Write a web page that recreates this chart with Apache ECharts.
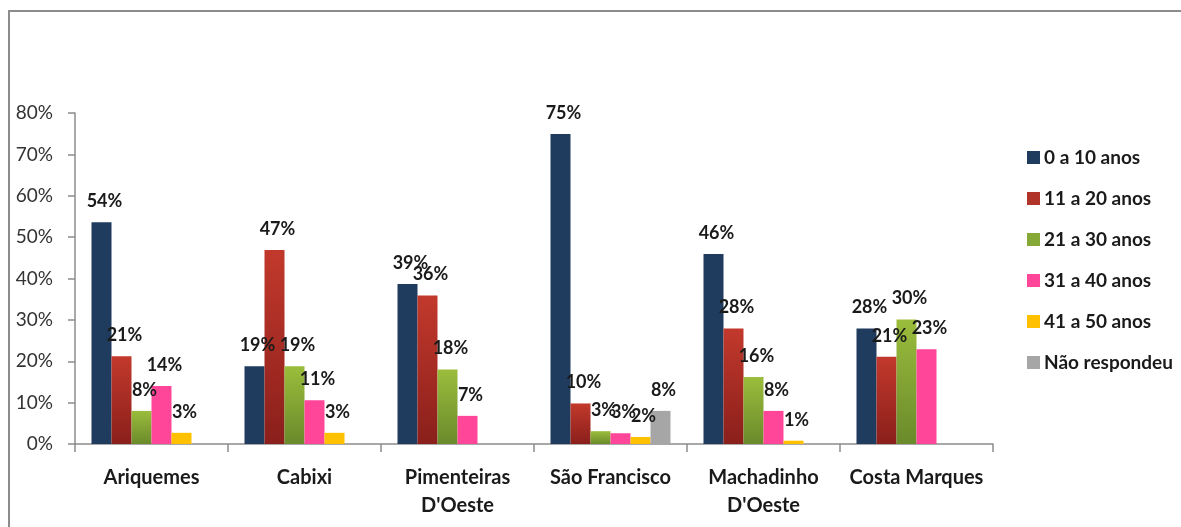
<!DOCTYPE html>
<html>
<head>
<meta charset="utf-8">
<script src="https://cdn.jsdelivr.net/npm/echarts@6/dist/echarts.min.js"></script>
<style>
html, body { margin: 0; padding: 0; background: #fff; }
#chart { width: 1181px; height: 527px; }
</style>
</head>
<body>
<div id="chart"></div>
<script>
// categorias (municípios) e faixas etárias
var municipios = ['Ariquemes', 'Cabixi', 'Pimenteiras\nD\'Oeste', 'São Francisco', 'Machadinho\nD\'Oeste', 'Costa Marques'];
var faixas = ['0 a 10 anos', '11 a 20 anos', '21 a 30 anos', '31 a 40 anos', '41 a 50 anos', 'Não respondeu'];

// valores em %
var anos0a10 = [53.6, 18.8, 38.7, 74.9, 45.9, 27.9];
var anos11a20 = [21.2, 46.9, 35.9, 9.8, 27.9, 21.1];
var anos21a30 = [8.0, 18.8, 18.0, 3.1, 16.2, 30.1];
var anos31a40 = [14.0, 10.6, 6.8, 2.6, 8.0, 22.9];
var anos41a50 = [2.7, 2.7, null, 1.7, 0.8, null];
var naoRespondeu = [null, null, null, 8.0, null, null];

var yTicks = { min: 0, max: 80, interval: 10 };

var chart = echarts.init(document.getElementById('chart'));

var grad = function (top, bottom) {
	return new echarts.graphic.LinearGradient(0, 0, 0, 1, [
		{ offset: 0, color: top },
		{ offset: 1, color: bottom }
	]);
};

var cores = [
	'#1F3B5E',
	grad('#C2392C', '#8A1F1B'),
	grad('#9BBD3C', '#6A8A2B'),
	'#FF4699',
	'#FFC000',
	'#A6A6A6'
];
var coresLegenda = ['#1F3B5E', '#B0342A', '#86A836', '#FF4699', '#FFC000', '#A6A6A6'];

var dados = [anos0a10, anos11a20, anos21a30, anos31a40, anos41a50, naoRespondeu];

var series = [];
for (var i = 0; i < faixas.length; i++) {
	series.push({
		name: faixas[i],
		type: 'bar',
		barWidth: 20,
		barGap: '0%',
		data: dados[i],
		itemStyle: { color: cores[i] },
		label: {
			show: true,
			position: 'top',
			distance: 12,
			offset: [3, 0],
			fontFamily: 'Lato, "Noto Sans", sans-serif',
			fontWeight: 'bold',
			fontSize: 18,
			color: '#1a1a1a',
			formatter: function (p) {
				return Math.round(p.value) + '%';
			}
		}
	});
}

var option = {
	animation: false,
	color: coresLegenda,
	textStyle: { fontFamily: 'Lato, "Noto Sans", sans-serif' },
	grid: {
		left: 75,
		right: 188,
		top: 113,
		bottom: 83
	},
	legend: {
		orient: 'vertical',
		left: 1022,
		top: 143,
		itemWidth: 13,
		itemHeight: 13,
		itemGap: 22,
		icon: 'rect',
		data: faixas.map(function (f, k) {
			return { name: f, itemStyle: { color: coresLegenda[k] } };
		}),
		textStyle: {
			fontFamily: 'Lato, "Noto Sans", sans-serif',
			fontSize: 19,
			fontWeight: 'bold',
			color: '#1a1a1a',
			padding: [0, 0, 0, -1]
		}
	},
	xAxis: {
		type: 'category',
		data: municipios,
		axisLine: { lineStyle: { color: '#8c8c8c', width: 1.5 } },
		axisTick: { show: true, length: 8, lineStyle: { color: '#8c8c8c', width: 1.5 } },
		axisLabel: {
			margin: 20,
			fontSize: 20,
			fontWeight: 'bold',
			lineHeight: 28,
			color: '#1a1a1a',
			interval: 0
		}
	},
	yAxis: {
		type: 'value',
		min: yTicks.min,
		max: yTicks.max,
		interval: yTicks.interval,
		axisLine: { show: true, lineStyle: { color: '#8c8c8c', width: 1.5 } },
		axisTick: { show: true, length: 7, lineStyle: { color: '#8c8c8c', width: 1.5 } },
		splitLine: { show: false },
		axisLabel: {
			margin: 22,
			fontSize: 19,
			color: '#333',
			formatter: '{value}%'
		}
	},
	graphic: [{
		type: 'polyline',
		shape: { points: [[9, 527], [9, 11], [1181, 11]] },
		style: { fill: null, stroke: '#8c8c8c', lineWidth: 2 },
		silent: true
	}],
	series: series
};

chart.setOption(option);
</script>
</body>
</html>
